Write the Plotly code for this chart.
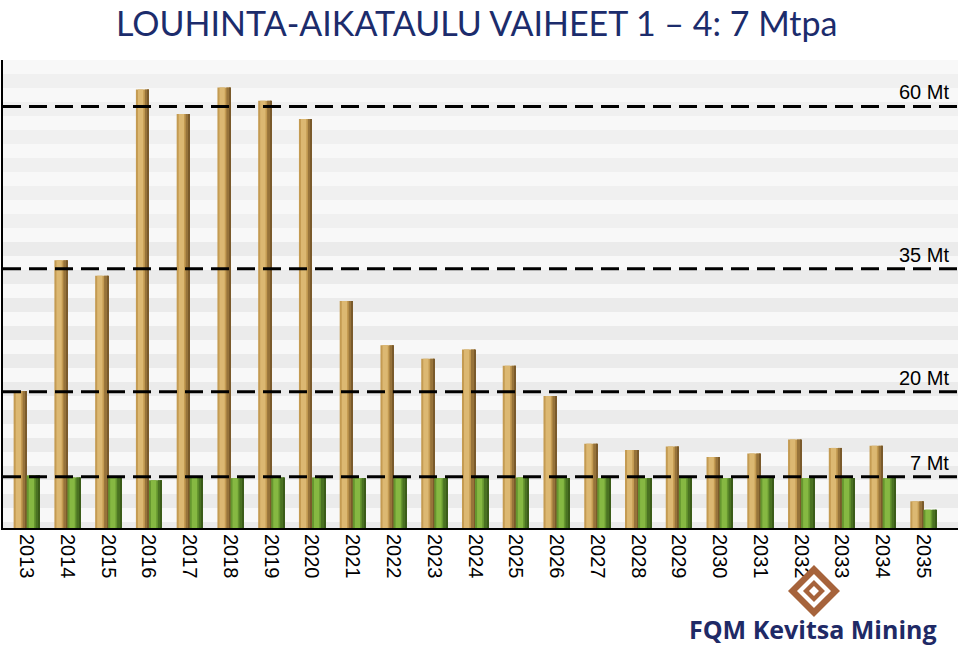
import plotly.graph_objects as go

years = [str(y) for y in range(2013, 2036)]
louhinta = [19.5, 38.1, 35.9, 62.4, 58.9, 62.7, 60.8, 58.2, 32.3, 26.0, 24.1, 25.4,
            23.1, 18.8, 12.0, 11.1, 11.6, 10.1, 10.6, 12.6, 11.4, 11.7, 3.8]
malmi = [7.5, 7.2, 7.1, 6.8, 7.2, 7.1, 7.2, 7.2, 7.1, 7.1, 7.1, 7.1,
         7.2, 7.1, 7.1, 7.1, 7.1, 7.1, 7.1, 7.1, 7.1, 7.1, 2.6]
ref_levels = [60.0, 36.9, 19.4, 7.3]
ref_labels = ["60 Mt", "35 Mt", "20 Mt", "7 Mt"]
title_text = "LOUHINTA-AIKATAULU VAIHEET 1 – 4: 7 Mtpa"

W, H = 960, 648
L, R, T, B = 3, 2, 60, 120
PW, PH = W - L - R, H - T - B


def px(x):
    return (x - L) / PW


def py(y):
    return (H - B - y) / PH


fig = go.Figure()

BW = 0.32
# tan bars: base, highlight, shadow strips (cylinder look)
tan_layers = [(-BW, BW, "#c49b52"), (-BW + 0.05, 0.13, "#dcb872"),
              (-BW + 0.22, 0.10, "#97733a"), (-0.025, 0.025, "#7a5a2b")]
green_layers = [(0, BW, "#66962f"), (0.05, 0.13, "#86b842"),
                (0.22, 0.10, "#4a7222"), (BW - 0.025, 0.025, "#3b5c19")]
for off, wd, col in tan_layers:
    fig.add_trace(go.Bar(x=years, y=louhinta, offset=off, width=wd,
                         marker=dict(color=col, line=dict(width=0)),
                         showlegend=False, hoverinfo="skip"))
for off, wd, col in green_layers:
    fig.add_trace(go.Bar(x=years, y=malmi, offset=off, width=wd,
                         marker=dict(color=col, line=dict(width=0)),
                         showlegend=False, hoverinfo="skip"))

shapes = []
# striped background
period = 28
y0 = 60
while y0 < 528:
    shapes.append(dict(type="rect", xref="paper", yref="paper", layer="below",
                       x0=0, x1=1, y0=py(min(y0 + 14, 528)), y1=py(y0),
                       fillcolor="#f8f8f8", line=dict(width=0)))
    shapes.append(dict(type="rect", xref="paper", yref="paper", layer="below",
                       x0=0, x1=1, y0=py(min(y0 + 28, 528)), y1=py(min(y0 + 14, 528)),
                       fillcolor="#ebebeb" if y0 > 220 else "#f0f0f0", line=dict(width=0)))
    y0 += period

# reference dashed lines
for lv in ref_levels:
    shapes.append(dict(type="line", xref="paper", yref="y", x0=0, x1=1, y0=lv, y1=lv,
                       line=dict(color="black", width=3, dash="18px,8px"), layer="above"))

# logo symbol (diamond knot)
cx, cy = 814, 591


def diamond(r):
    pts = [(cx, cy - r), (cx + r, cy), (cx, cy + r), (cx - r, cy)]
    return "M " + " L ".join(f"{px(a):.5f},{py(b):.5f}" for a, b in pts) + " Z "


shapes.append(dict(type="path", xref="paper", yref="paper",
                   path=diamond(26) + diamond(17) + diamond(11) + diamond(5),
                   fillcolor="#a6633b", line=dict(width=0), fillrule="evenodd"))

annotations = []
for lv, lab in zip(ref_levels, ref_labels):
    annotations.append(dict(x=px(951), xref="paper", y=lv, yref="y", text=lab,
                            showarrow=False, xanchor="right", yanchor="bottom", yshift=1,
                            font=dict(family="Arial, Liberation Sans", size=20, color="black")))
annotations.append(dict(x=px(939), xref="paper", y=py(629), yref="paper",
                        text="<b>FQM Kevitsa Mining</b>", showarrow=False,
                        xanchor="right", yanchor="middle",
                        font=dict(family="Open Sans", size=25, color="#1f2a66")))
annotations.append(dict(x=px(476), xref="paper", y=py(0), yref="paper", text=title_text,
                        showarrow=False, xanchor="center", yanchor="top",
                        font=dict(family="Lato", size=34, color="#1c2c6c")))

fig.update_layout(
    width=W, height=H,
    margin=dict(l=L, r=R, t=T, b=B),
    paper_bgcolor="white", plot_bgcolor="#f5f5f5",
    barmode="overlay",
    shapes=shapes, annotations=annotations,
    xaxis=dict(type="category", range=[-0.581, 22.85], showgrid=False,
               tickangle=90, tickfont=dict(family="Arial, Liberation Sans", size=20, color="black"),
               showline=True, linecolor="black", linewidth=2, ticks="", zeroline=False),
    yaxis=dict(range=[0, 66.6], showgrid=False, showticklabels=False, ticks="",
               showline=True, linecolor="black", linewidth=2, zeroline=False),
)

fig.write_html("out.html")
